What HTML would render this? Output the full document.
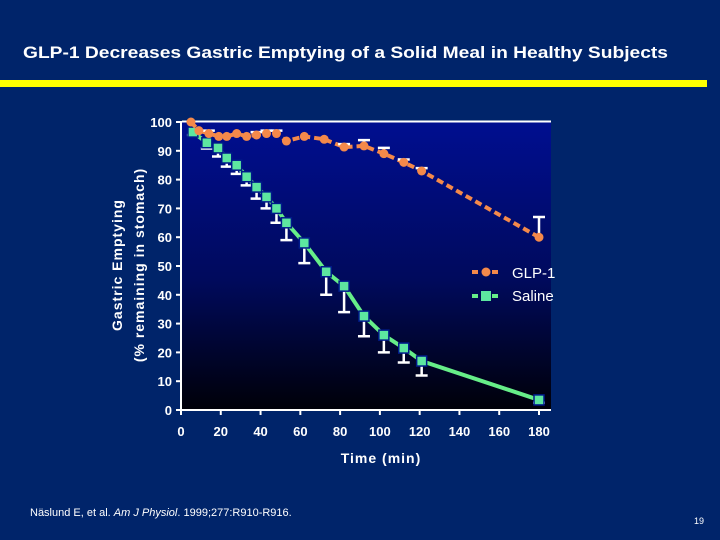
<!DOCTYPE html>
<html><head><meta charset="utf-8">
<style>
html,body{margin:0;padding:0;background:#00246a;}
svg{display:block;font-family:"Liberation Sans",Arial,sans-serif;}
</style></head>
<body>
<svg id="c" width="720" height="540" viewBox="0 0 720 540">
<defs>
<linearGradient id="pg" x1="0" y1="0" x2="0" y2="1">
<stop offset="0" stop-color="#000e90"/>
<stop offset="0.55" stop-color="#000a5c"/>
<stop offset="1" stop-color="#000008"/>
</linearGradient>
</defs>
<rect x="0" y="0" width="720" height="540" fill="#00246a"/>
<text x="23" y="58" fill="#fff" font-size="17" font-weight="bold" textLength="645" lengthAdjust="spacingAndGlyphs">GLP-1 Decreases Gastric Emptying of a Solid Meal in Healthy Subjects</text>
<rect x="0" y="80" width="707" height="7" fill="#ffff00"/>
<rect x="182" y="122" width="369" height="288" fill="url(#pg)"/>
<line x1="182" y1="121.5" x2="551" y2="121.5" stroke="#fff" stroke-width="2"/>
<g id="axes"></g>
<g id="series"></g>
<text transform="translate(122,265) rotate(-90)" text-anchor="middle" fill="#fff" font-size="14" font-weight="bold" letter-spacing="1">Gastric Emptying</text>
<text transform="translate(144,265) rotate(-90)" text-anchor="middle" fill="#fff" font-size="14" font-weight="bold" letter-spacing="1">(% remaining in stomach)</text>
<text x="381" y="463" text-anchor="middle" fill="#fff" font-size="14" font-weight="bold" letter-spacing="1">Time (min)</text>
<g>
<line x1="472" y1="272" x2="500" y2="272" stroke="#f4894a" stroke-width="4" stroke-dasharray="6,4"/>
<circle cx="486" cy="272" r="4.5" fill="#f4894a"/>
<text x="512" y="278" fill="#fff" font-size="15">GLP-1</text>
<line x1="472" y1="296" x2="500" y2="296" stroke="#66ee88" stroke-width="4" stroke-dasharray="6,4"/>
<rect x="481" y="291" width="10" height="10" fill="#5de6a0"/>
<text x="512" y="301" fill="#fff" font-size="15">Saline</text>
</g>
<text x="30" y="516" fill="#fff" font-size="11">Näslund E, et al. <tspan font-style="italic">Am J Physiol</tspan>. 1999;277:R910-R916.</text>
<text x="704" y="524" text-anchor="end" fill="#fff" font-size="9">19</text>
</svg>
<script>
var xTicks=[0,20,40,60,80,100,120,140,160,180];
var yTicks=[0,10,20,30,40,50,60,70,80,90,100];
var glpTime=[5,9,14,19,23,28,33,38,43,48,53,62,72,82,92,102,112,121,180];
var glpVal=[100,97,96,95,95,96,95,95.5,96,96,93.4,95,94,91.3,91.7,89,86,83,60];
var glpErr=[0,0,1,0,0,0,0,1,1,1,0,0,0,1,2,2,1,1,7];
var salTime=[6,13,18.6,23,28,33,38,43,48,53,62,73,82,92,102,112,121,180];
var salVal=[96.5,92.8,91,87.5,85,81,77.4,74,70,65,58,48,43,32.6,26,21.5,17,3.5];
var salErr=[1,2,3,3,3,3,4,4,5,6,7,8,9,7,6,5,5,1];
var NS="http://www.w3.org/2000/svg";
function X(t){return 181+t*(358/180);}
function Y(v){return 410-v*2.88;}
function mk(tag,at,parent){var e=document.createElementNS(NS,tag);for(var k in at)e.setAttribute(k,at[k]);parent.appendChild(e);return e;}
var ax=document.getElementById('axes');
var yl=mk('line',{x1:181,y1:121,x2:181,y2:411,stroke:'#fff','stroke-width':2},ax);


var xl=mk('line',{x1:176,y1:410,x2:551,y2:410,stroke:'#fff','stroke-width':2},ax);


yTicks.forEach(function(v){
 var t=mk('line',{x1:176,y1:Y(v),x2:181,y2:Y(v),stroke:'#fff','stroke-width':2},ax);
 
 
 var l=mk('text',{x:172,y:Y(v)+5,'text-anchor':'end',fill:'#fff','font-size':13,'font-weight':'bold'},ax);
 l.textContent=v;
 
 
});
xTicks.forEach(function(v){
 var t=mk('line',{x1:X(v),y1:410,x2:X(v),y2:415,stroke:'#fff','stroke-width':2},ax);
 
 
 var l=mk('text',{x:X(v),y:436,'text-anchor':'middle',fill:'#fff','font-size':13,'font-weight':'bold'},ax);
 l.textContent=v;
 
 
});
var sg=document.getElementById('series');
function pts(ts,vs){return ts.map(function(t,i){return X(t)+','+Y(vs[i]);}).join(' ');}
var sl=mk('polyline',{points:pts(salTime,salVal),fill:'none',stroke:'#66ee88','stroke-width':4},sg);


salTime.forEach(function(t,i){
 var x=X(t),y=Y(salVal[i]),y2=Y(salVal[i]-salErr[i]);
 var e=mk('path',{d:'M'+x+','+y+'V'+y2+'M'+(x-6)+','+y2+'H'+(x+6),stroke:'#fff','stroke-width':2.5,fill:'none'},sg);
 
 
});
salTime.forEach(function(t,i){
 var r=mk('rect',{x:X(t)-5,y:Y(salVal[i])-5,width:10,height:10,fill:'#5de6a0',stroke:'#001a8a','stroke-width':1.5},sg);
 
 
});
var gl=mk('polyline',{points:pts(glpTime,glpVal),fill:'none',stroke:'#f4894a','stroke-width':4,'stroke-dasharray':'7,4'},sg);


glpTime.forEach(function(t,i){
 if(!glpErr[i])return;
 var x=X(t),y=Y(glpVal[i]),y2=Y(glpVal[i]+glpErr[i]);
 var e=mk('path',{d:'M'+x+','+y+'V'+y2+'M'+(x-6)+','+y2+'H'+(x+6),stroke:'#fff','stroke-width':2.5,fill:'none'},sg);
 
 
});
glpTime.forEach(function(t,i){
 var c=mk('circle',{cx:X(t),cy:Y(glpVal[i]),r:4.5,fill:'#f4894a'},sg);
 
 
});
</script>
</body></html>
